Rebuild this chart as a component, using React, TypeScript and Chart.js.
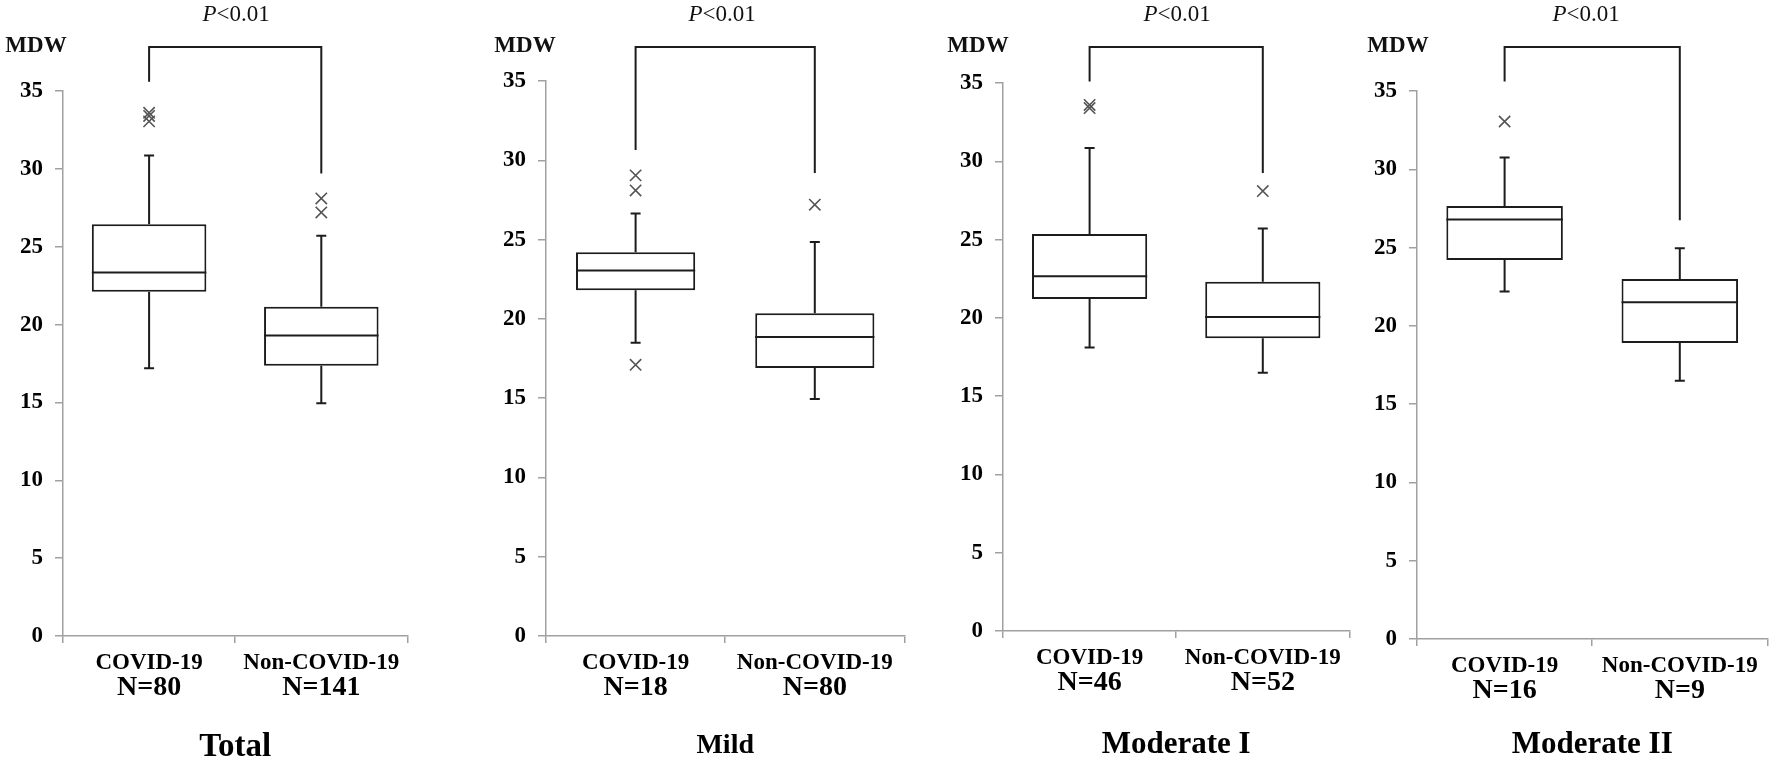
import React, { useEffect, useRef } from 'react';
import { Chart, registerables } from 'chart.js';

Chart.register(...registerables);

const FONT = '"Liberation Serif", "Times New Roman", serif';
const AXIS = '#a0a0a0';
const INK = '#1c1c1c';

// ---- data ----
const panelTitles = ['Total', 'Mild', 'Moderate I', 'Moderate II'];
const titleSizes = [33, 28, 31, 31];
const groupLabels = ['COVID-19', 'Non-COVID-19'];
const nLabels = [
  ['N=80', 'N=141'],
  ['N=18', 'N=80'],
  ['N=46', 'N=52'],
  ['N=16', 'N=9'],
];
const yAxisLabel = 'MDW';
const yMin = 0;
const yMax = 35;
const yStep = 5;
const pItalic = 'P';
const pRest = '<0.01';

// [panel][group]
const whiskerLow = [[17.2, 14.95], [18.5, 14.95], [18.1, 16.5], [22.2, 16.5]];
const q1 = [[22.1, 17.35], [21.8, 16.9], [21.2, 18.7], [24.2, 18.9]];
const median = [[23.35, 19.3], [23.05, 18.85], [22.65, 20.05], [26.8, 21.5]];
const q3 = [[26.45, 21.15], [24.2, 20.35], [25.35, 22.3], [27.65, 23.0]];
const whiskerHigh = [[30.85, 25.7], [26.65, 24.85], [30.85, 25.7], [30.75, 24.95]];
const outliersCovid = [[33.6, 33.4, 33.05], [29.05, 28.1, 17.1], [33.6, 33.4], [33.05]];
const outliersNon = [[28.1, 27.2], [27.2], [28.1], []];
const bracketLeftEnd = [35.6, 30.65, 35.1, 35.6];
const bracketRightEnd = [29.7, 29.2, 29.25, 26.75];

// ---- layout frames (pixels) ----
const frames = [
  { left: 63, right: 413, top: 91, bottom: 636, titlePad: 0, mdwOff: 27, pOff: 1 },
  { left: 546, right: 910, top: 81, bottom: 636, titlePad: 4, mdwOff: 21, pOff: -3 },
  { left: 1003, right: 1355, top: 83, bottom: 631, titlePad: 4, mdwOff: 25, pOff: 1 },
  { left: 1417, right: 1773, top: 91, bottom: 639, titlePad: 4, mdwOff: 19, pOff: -6 },
];
const H = 764;
const YW = 70;
const XH = 36;
const BRACKET_Y = 47;

function Panel({ index }: { index: number }) {
  const ref = useRef<HTMLCanvasElement | null>(null);
  const f = frames[index];
  const width = f.right - f.left + YW + 4;

  useEffect(() => {
    const canvas = ref.current;
    if (!canvas) return;
    const i = index;

    const extras = {
      id: 'boxExtras' + i,
      afterDatasetsDraw(chart: any) {
        const ctx = chart.ctx;
        const ys = chart.scales.y;
        const meta = chart.getDatasetMeta(0);
        ctx.save();
        ctx.strokeStyle = INK;
        ctx.lineWidth = 2;
        ctx.lineCap = 'butt';
        meta.data.forEach((bar: any, g: number) => {
          const x = bar.x;
          const w = bar.width;
          const pMed = ys.getPixelForValue(median[i][g]);
          const pQ1 = ys.getPixelForValue(q1[i][g]);
          const pQ3 = ys.getPixelForValue(q3[i][g]);
          const pLo = ys.getPixelForValue(whiskerLow[i][g]);
          const pHi = ys.getPixelForValue(whiskerHigh[i][g]);
          const cap = 5;
          ctx.beginPath();
          ctx.moveTo(x - w / 2, pMed);
          ctx.lineTo(x + w / 2, pMed);
          ctx.moveTo(x, pQ3);
          ctx.lineTo(x, pHi);
          ctx.moveTo(x - cap, pHi);
          ctx.lineTo(x + cap, pHi);
          ctx.moveTo(x, pQ1);
          ctx.lineTo(x, pLo);
          ctx.moveTo(x - cap, pLo);
          ctx.lineTo(x + cap, pLo);
          ctx.stroke();
        });
        ctx.restore();
      },
      afterDraw(chart: any) {
        const ctx = chart.ctx;
        const ys = chart.scales.y;
        const xs = chart.scales.x;
        const x0 = xs.getPixelForValue(0);
        const x1 = xs.getPixelForValue(1);
        ctx.save();
        ctx.strokeStyle = INK;
        ctx.lineWidth = 2;
        ctx.beginPath();
        ctx.moveTo(x0, ys.getPixelForValue(bracketLeftEnd[i]));
        ctx.lineTo(x0, BRACKET_Y);
        ctx.lineTo(x1, BRACKET_Y);
        ctx.lineTo(x1, ys.getPixelForValue(bracketRightEnd[i]));
        ctx.stroke();

        // P<0.01
        const fItal = 'italic 23px ' + FONT;
        const fReg = '23px ' + FONT;
        ctx.fillStyle = '#111';
        ctx.textBaseline = 'alphabetic';
        ctx.textAlign = 'left';
        ctx.font = fItal;
        const wP = ctx.measureText(pItalic).width;
        ctx.font = fReg;
        const wR = ctx.measureText(pRest).width;
        const cx = (x0 + x1) / 2 + f.pOff;
        const sx = cx - (wP + wR) / 2;
        ctx.font = fItal;
        ctx.fillText(pItalic, sx, 21);
        ctx.font = fReg;
        ctx.fillText(pRest, sx + wP, 21);

        // MDW
        ctx.font = 'bold 23px ' + FONT;
        ctx.textAlign = 'center';
        ctx.textBaseline = 'middle';
        ctx.fillText(yAxisLabel, chart.chartArea.left - f.mdwOff, 46);
        ctx.restore();
      },
    };

    const outlierData = [
      ...outliersCovid[i].map((v) => ({ x: groupLabels[0], y: v })),
      ...outliersNon[i].map((v) => ({ x: groupLabels[1], y: v })),
    ];

    const chart = new Chart(canvas, {
      type: 'bar',
      data: {
        labels: groupLabels,
        datasets: [
          {
            type: 'bar',
            xAxisID: 'x',
            yAxisID: 'y',
            data: [
              [q1[i][0], q3[i][0]],
              [q1[i][1], q3[i][1]],
            ],
            backgroundColor: '#ffffff',
            borderColor: INK,
            borderWidth: 2,
            borderSkipped: false,
            barPercentage: 0.665,
            categoryPercentage: 1,
          } as any,
          {
            type: 'scatter',
            xAxisID: 'x',
            yAxisID: 'y',
            data: outlierData,
            pointStyle: 'crossRot',
            pointRadius: 8,
            pointBorderColor: '#555555',
            pointBackgroundColor: 'rgba(0,0,0,0)',
            pointBorderWidth: 1.6,
            showLine: false,
          } as any,
        ],
      },
      options: {
        responsive: false,
        animation: false,
        events: [],
        layout: { padding: { top: f.top, left: 0, right: 4, bottom: 0 } },
        plugins: { legend: { display: false }, tooltip: { enabled: false } },
        scales: {
          x: {
            type: 'category',
            position: 'bottom',
            offset: true,
            weight: 0,
            grid: {
              offset: true,
              drawOnChartArea: false,
              color: AXIS,
              lineWidth: 1.5,
              tickLength: 7,
            },
            border: { color: AXIS, width: 1.5 },
            ticks: {
              color: '#000',
              font: { family: FONT, size: 23, weight: 'bold', lineHeight: 1.2 },
              padding: 6,
              maxRotation: 0,
              minRotation: 0,
              autoSkip: false,
            },
            afterFit: (s: any) => {
              s.height = XH;
            },
          },
          x2: {
            type: 'category',
            labels: nLabels[i],
            position: 'bottom',
            offset: true,
            weight: 1,
            grid: { display: false, drawTicks: false },
            border: { display: false },
            ticks: {
              color: '#000',
              font: { family: FONT, size: 28, weight: 'bold', lineHeight: 1 },
              padding: 2,
              maxRotation: 0,
              minRotation: 0,
              autoSkip: false,
            },
            title: {
              display: true,
              text: panelTitles[i],
              color: '#000',
              font: { family: FONT, size: titleSizes[i], weight: 'bold', lineHeight: 1 },
              padding: { top: 0, bottom: f.titlePad },
            },
            afterFit: (s: any) => {
              s.height = H - f.bottom - XH;
            },
          },
          y: {
            type: 'linear',
            position: 'left',
            min: yMin,
            max: yMax,
            ticks: {
              stepSize: yStep,
              color: '#000',
              font: { family: FONT, size: 23, weight: 'bold' },
              padding: 12,
            },
            grid: {
              drawOnChartArea: false,
              color: AXIS,
              lineWidth: 1.5,
              tickLength: 8,
            },
            border: { color: AXIS, width: 1.5 },
            afterFit: (s: any) => {
              s.width = YW;
            },
          },
        },
      } as any,
      plugins: [extras],
    });
    return () => chart.destroy();
  }, [index]);

  return (
    <canvas
      ref={ref}
      width={width}
      height={H}
      style={{
        position: 'absolute',
        left: f.left - YW,
        top: 0,
        width: width,
        height: H,
      }}
    />
  );
}

export default function App() {
  return (
    <div
      style={{
        position: 'fixed',
        left: 0,
        top: 0,
        width: 1778,
        height: 764,
        overflow: 'hidden',
        background: '#ffffff',
      }}
    >
      {panelTitles.map((_, i) => (
        <Panel key={i} index={i} />
      ))}
    </div>
  );
}
